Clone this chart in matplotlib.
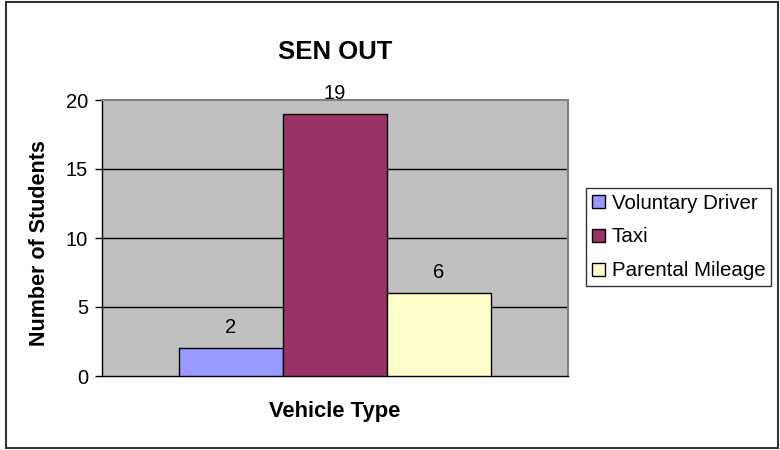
import matplotlib
matplotlib.use("Agg")
import matplotlib.pyplot as plt
from matplotlib.patches import Rectangle

plt.rcParams['font.family'] = ['Liberation Sans', 'DejaVu Sans']

title = "SEN OUT"
categories = ["Voluntary Driver", "Taxi", "Parental Mileage"]
values = [2, 19, 6]
colors = ["#9999FF", "#993366", "#FFFFCC"]
yticks = [0, 5, 10, 15, 20]
xlabel = "Vehicle Type"
ylabel = "Number of Students"

W, H = 780, 450
fig = plt.figure(figsize=(W / 100, H / 100), dpi=100)
fig.patch.set_facecolor("white")

ax = fig.add_axes([102 / W, 1 - 376 / H, (568 - 102) / W, (376 - 100) / H])
ax.set_facecolor("#C0C0C0")

n = len(values)
positions = [i - (n - 1) / 2 for i in range(n)]
bars = []
for p, v, c, lab in zip(positions, values, colors, categories):
    b = ax.bar(p, v, width=1.0, color=c, edgecolor="black", linewidth=1.0,
               label=lab, zorder=3)
    bars.append(b)
    ax.annotate(str(v), xy=(p, v), xytext=(0, 11), textcoords="offset points",
                ha="center", va="baseline", fontsize=14.5, color="black",
                annotation_clip=False, zorder=4)

ax.set_xlim(-2.24, 2.24)
ax.set_ylim(0, 20)
ax.set_yticks(yticks)
ax.set_yticklabels([str(t) for t in yticks], fontsize=14.5)
ax.set_xticks([])
ax.tick_params(axis="y", length=5, width=1, direction="out", pad=5, color="black")
for y in yticks[1:-1]:
    ax.axhline(y, color="black", linewidth=1.0, zorder=1)

for s in ["top", "right"]:
    ax.spines[s].set_color("#808080")
    ax.spines[s].set_linewidth(1.5)
for s in ["left", "bottom"]:
    ax.spines[s].set_color("black")
    ax.spines[s].set_linewidth(1.0)

fig.text(335 / W, 1 - 52 / H, title, ha="center", va="center",
         fontsize=18.5, fontweight="bold")
fig.text(335 / W, 1 - 412 / H, xlabel, ha="center", va="center",
         fontsize=15.8, fontweight="bold")
fig.text(40 / W, 1 - 243 / H, ylabel, ha="center", va="center",
         rotation=90, fontsize=15.5, fontweight="bold")

leg = fig.legend(handles=[b[0] for b in bars], labels=categories,
                 loc="center left", bbox_to_anchor=(586 / W, 1 - 237 / H),
                 fontsize=14.8, frameon=True, fancybox=False, shadow=False,
                 handlelength=0.6, handleheight=0.6, handletextpad=0.35,
                 labelspacing=0.72, borderpad=0.3, borderaxespad=0.0)
leg.get_frame().set_edgecolor("black")
leg.get_frame().set_linewidth(1.0)

fig.patches.append(Rectangle((6 / W, 2 / H), (778 - 6) / W, (448 - 2) / H,
                             transform=fig.transFigure, fill=False,
                             edgecolor="#333333", linewidth=1.5))

fig.savefig("out.png", dpi=100)
